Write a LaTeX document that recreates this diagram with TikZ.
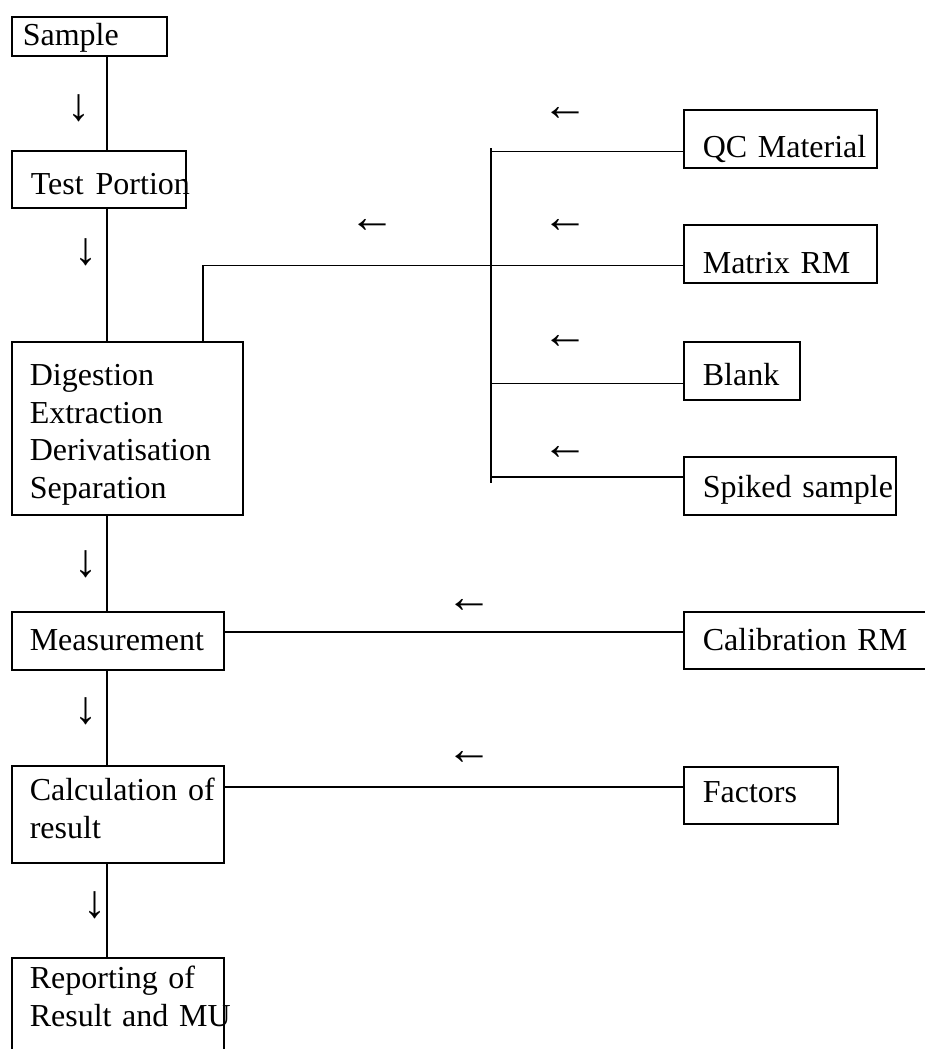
\documentclass[tikz,border=0pt]{standalone}
\usepackage{fontspec}
\setmainfont{Liberation Serif}
\usepackage{tikz}
\usetikzlibrary{calc}

\tikzset{
    stage/.style={draw,line width=1.6pt,anchor=north west,align=left,inner ysep=0pt,font=\fontsize{32}{37.5}\selectfont},
    link/.style={line width=1.6pt},
    flow/.style={inner sep=0pt,font=\fontsize{46}{46}\selectfont}
}

\begin{document}
\begin{tikzpicture}[x=1pt,y=-1pt]
    \useasboundingbox (0,0) rectangle (925,1049);
    \clip (0,0) rectangle (925,1049);

    % Main flow
    \node[stage,inner xsep=11pt,text width=133pt,text height=29pt,text depth=10pt] (sample) at (11,16) {Sample};
    \node[stage,inner xsep=19pt,text width=136pt,text height=44pt,text depth=13pt] (test) at (11,150) {\mbox{Test\hspace{12pt}Portion}};
    \node[stage,inner xsep=18pt,text width=195pt,text height=44pt,text depth=129pt] (digest) at (11,341) {Digestion\\Extraction\\Derivatisation\\Separation};
    \node[stage,inner xsep=18pt,text width=176pt,text height=39pt,text depth=19pt] (meas) at (11,611) {Measurement};
    \node[stage,inner xsep=18pt,text width=176pt,text height=35pt,text depth=62pt] (calc) at (11,765) {\mbox{Calculation of}\\result};
    \node[stage,inner xsep=18pt,text width=176pt,text height=31pt,text depth=100pt] (report) at (11,957) {Reporting of\\\mbox{Result and MU}};

    % Inputs
    \node[stage,inner xsep=19pt,text width=155pt,text height=48pt,text depth=10pt] (qc) at (683,109) {\mbox{QC Material}};
    \node[stage,inner xsep=19pt,text width=155pt,text height=49pt,text depth=9pt] (matrix) at (683,224) {\mbox{Matrix RM}};
    \node[stage,inner xsep=19pt,text width=78pt,text height=44pt,text depth=14pt] (blank) at (683,341) {Blank};
    \node[stage,inner xsep=19pt,text width=174pt,text height=41pt,text depth=17pt] (spiked) at (683,456) {\mbox{Spiked sample}};
    \node[stage,inner xsep=19pt,text width=222pt,text height=39pt,text depth=18pt] (calib) at (683,611) {\mbox{Calibration RM}};
    \node[stage,inner xsep=19pt,text width=116pt,text height=36pt,text depth=21pt] (factors) at (683,766) {Factors};

    % Spine
    \coordinate (spine) at (107,0);
    \foreach \a/\b in {sample/test,test/digest,digest/meas,meas/calc,calc/report} {
        \draw[link] (\a.south -| spine) -- (\b.north -| spine);
    }

    % Bus from the QC inputs
    \coordinate (bustop) at (491,148);
    \coordinate (busend) at (491,483);
    \draw[link] (bustop) -- (busend);
    \draw[link] ([yshift=17pt]qc.south west) -- ([yshift=17pt]qc.south west -| bustop);
    \draw[link] ([yshift=17pt]blank.south west) -- ([yshift=17pt]blank.south west -| bustop);
    \draw[link] ([yshift=-21pt]spiked.north west) -- ([yshift=-21pt]spiked.north west -| bustop);
    \draw[link] ([xshift=192pt]digest.north west) |- ([yshift=18pt]matrix.south west);

    % Calibration and factors
    \draw[link] ([yshift=-21pt]meas.north east) -- ([yshift=-21pt]meas.north east -| calib.west);
    \draw[link] ([yshift=-22pt]calc.north east) -- ([yshift=-22pt]calc.north east -| factors.west);

    % Arrow signs
    \foreach \x/\y [count=\i] in {79/108,86/252,86/564,86/711,95/905} {
        \node[flow] (down\i) at (\x,\y) {↓};
    }
    \foreach \x/\y [count=\i] in {565/114,565/226,565/342,565/453,372/226,469/606,469/758} {
        \node[flow] (left\i) at (\x,\y) {←};
    }
\end{tikzpicture}
\end{document}
